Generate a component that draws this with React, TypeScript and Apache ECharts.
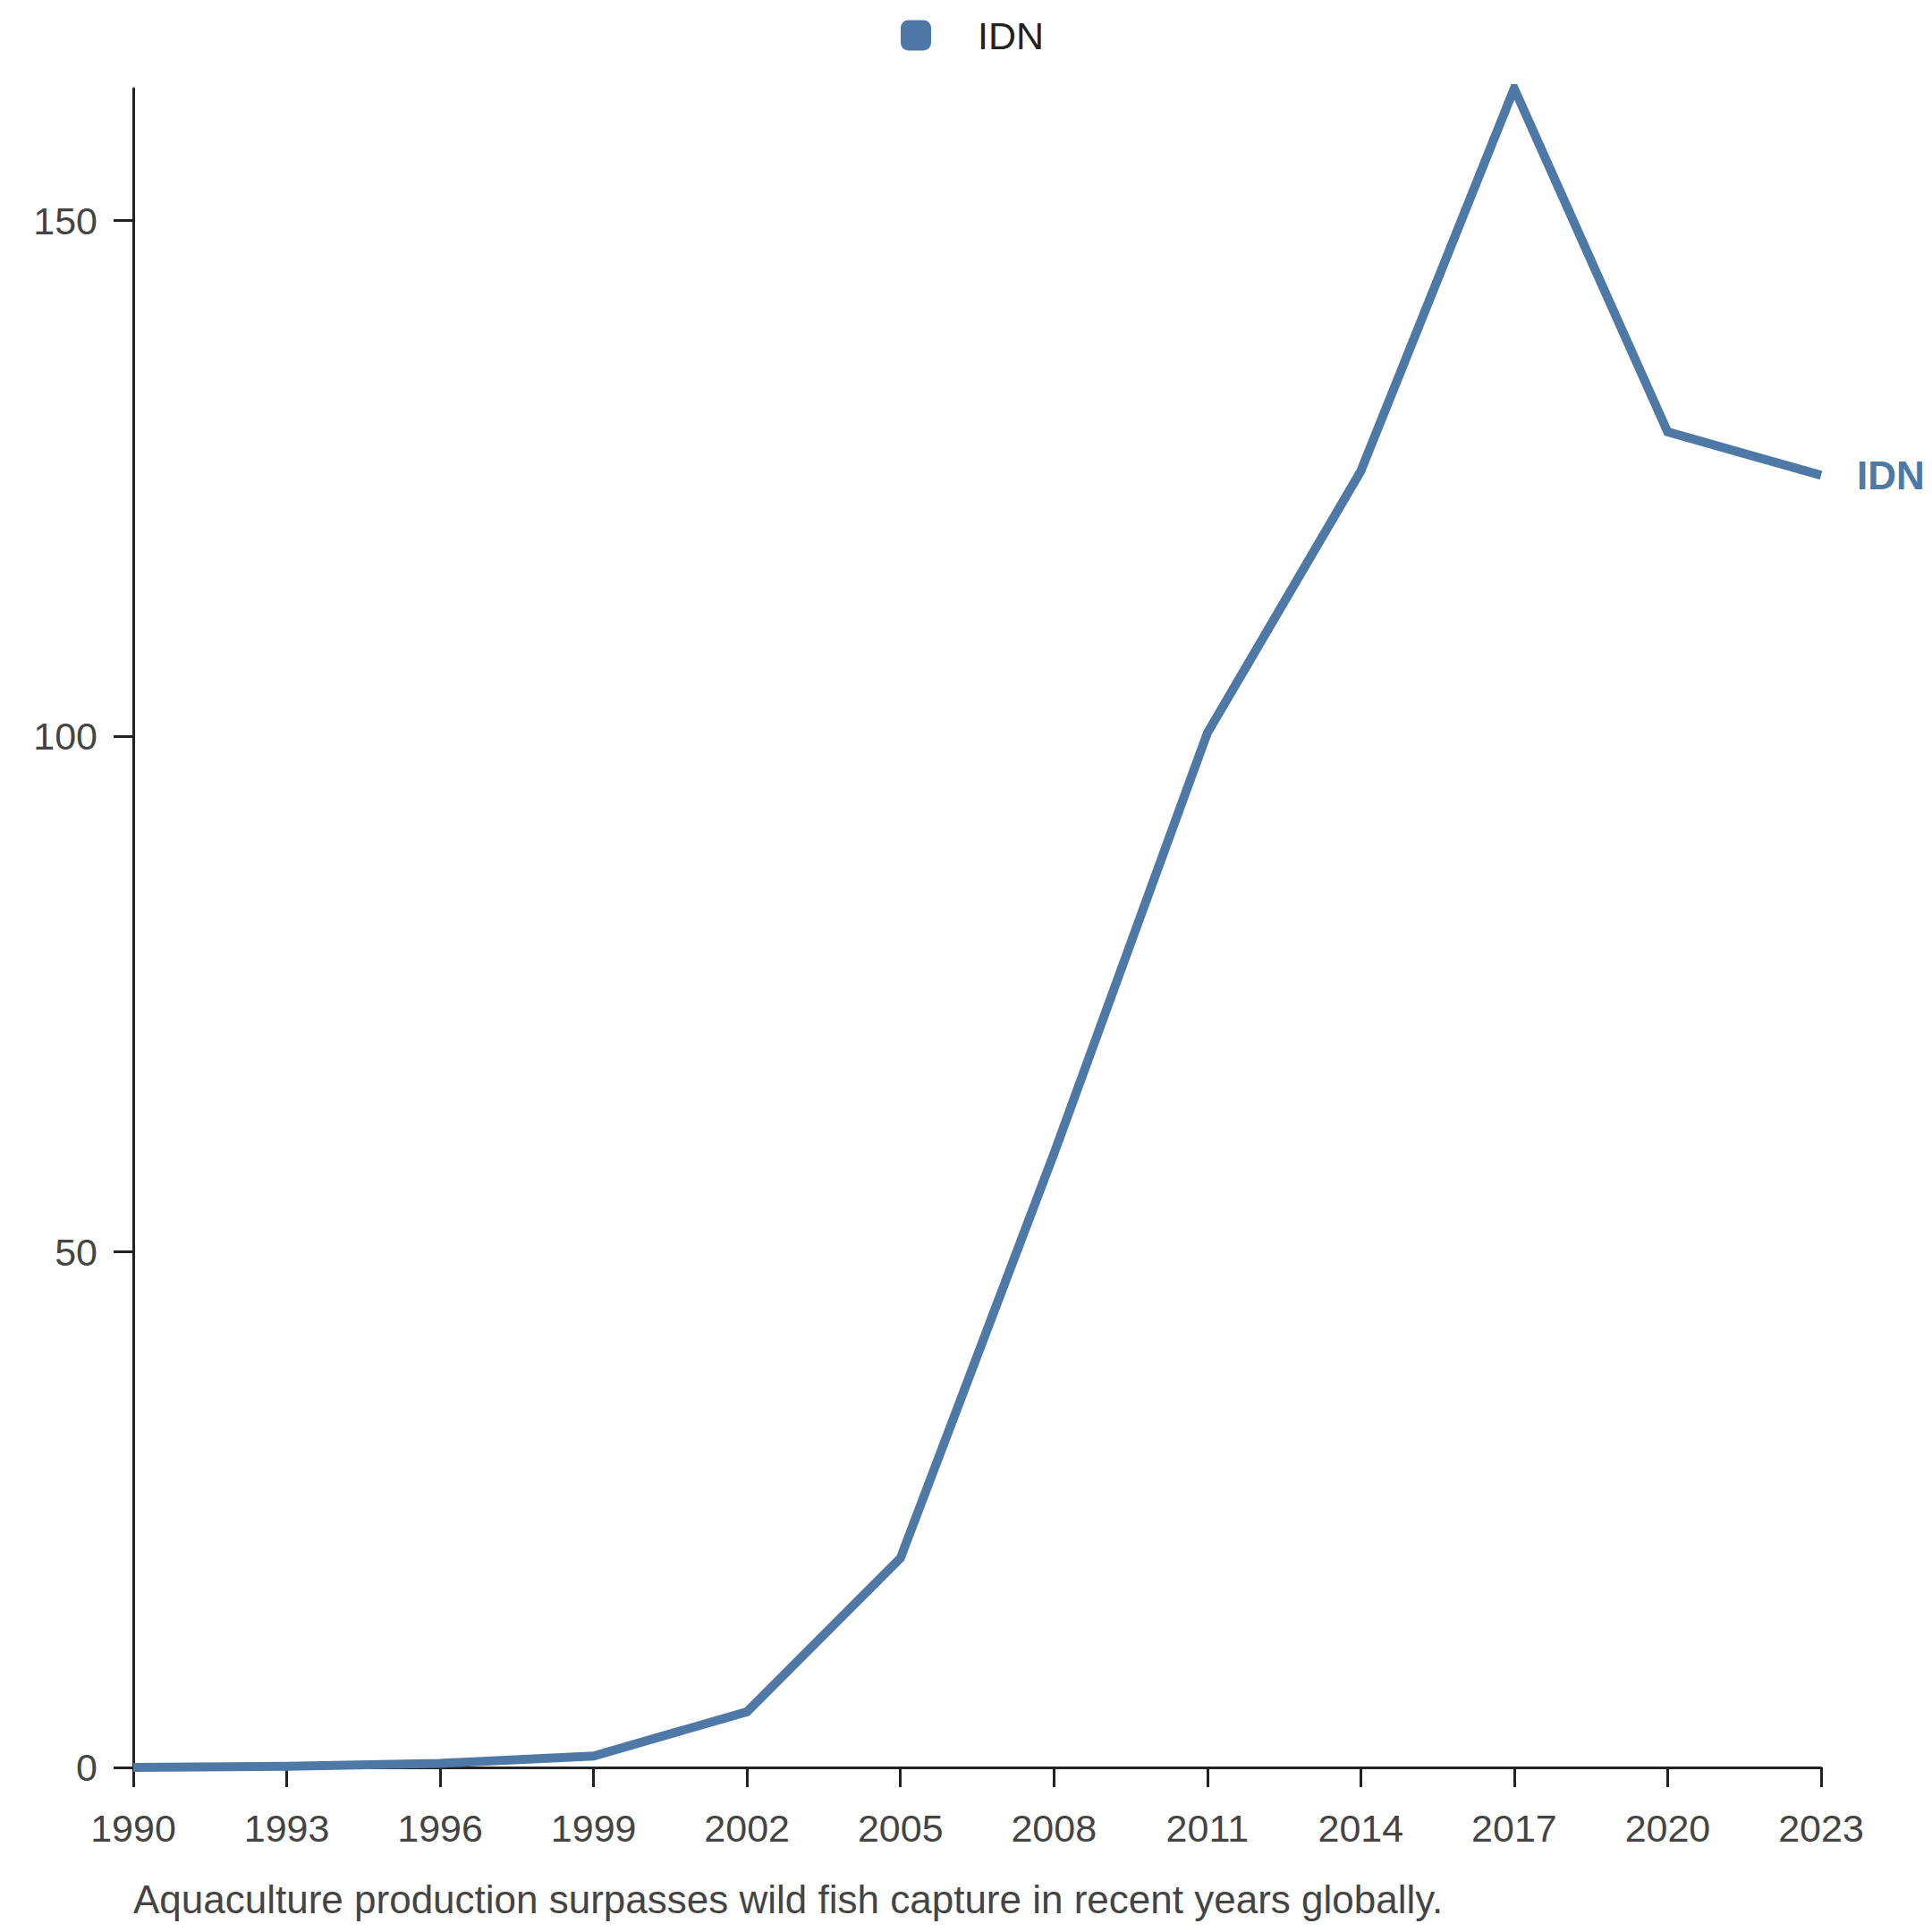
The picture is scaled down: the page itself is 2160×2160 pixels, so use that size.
import { useRef, useEffect } from "react";
import * as echarts from "echarts";

const years = [1990, 1993, 1996, 1999, 2002, 2005, 2008, 2011, 2014, 2017, 2020, 2023];
const idnValues = [0, 0.1, 0.4, 1.1, 5.4, 20.3, 59.5, 100.3, 125.7, 162.8, 129.5, 125.3];
const seriesName = "IDN";
const caption = "Aquaculture production surpasses wild fish capture in recent years globally.";

const blue = "#4e79a7";
const font = "'Liberation Sans', Arial, sans-serif";

const option = {
  animation: false,
  textStyle: { fontFamily: font },
  title: {
    text: caption,
    left: 144,
    top: 2096,
    textStyle: { fontSize: 44, fontWeight: "normal", color: "#444", fontFamily: font },
  },
  legend: {
    top: 13,
    left: 1002,
    icon: "roundRect",
    itemWidth: 34,
    itemHeight: 34,
    textStyle: { fontSize: 43, color: "#222", padding: [0, 0, 0, 47] },
    data: [seriesName],
  },
  grid: { left: 149, right: 124, top: 99, bottom: 184 },
  xAxis: {
    type: "value",
    min: 1990,
    max: 2023,
    interval: 3,
    splitLine: { show: false },
    axisLine: { lineStyle: { color: "#222", width: 3 } },
    axisTick: { length: 22, lineStyle: { color: "#222", width: 3 } },
    axisLabel: {
      fontSize: 43,
      color: "#444",
      margin: 46,
      formatter: (v: number) => String(v),
    },
  },
  yAxis: {
    type: "value",
    min: 0,
    max: "dataMax",
    interval: 50,
    splitLine: { show: false },
    axisLine: { show: true, lineStyle: { color: "#222", width: 3 } },
    axisTick: { show: true, length: 22, lineStyle: { color: "#222", width: 3 } },
    axisLabel: { fontSize: 43, color: "#444", margin: 40, showMaxLabel: false },
  },
  series: [
    {
      name: seriesName,
      type: "line",
      data: years.map((y, i) => [y, idnValues[i]]),
      symbol: "none",
      color: blue,
      lineStyle: { width: 10, color: blue, join: "miter", miterLimit: 10 },
      endLabel: {
        show: true,
        formatter: "{a}",
        distance: 40,
        fontSize: 44,
        fontWeight: "bold",
        color: blue,
      },
    },
  ],
};

const App = () => {
  const chartRef = useRef<HTMLDivElement>(null);

  useEffect(() => {
    document.body.style.margin = "0";
    const myChart = echarts.init(chartRef.current, null, { renderer: "svg" });
    myChart.setOption(option);
    return () => {
      myChart.dispose();
    };
  }, []);

  return <div ref={chartRef} style={{ width: "2160px", height: "2160px" }}></div>;
};

export default App;
